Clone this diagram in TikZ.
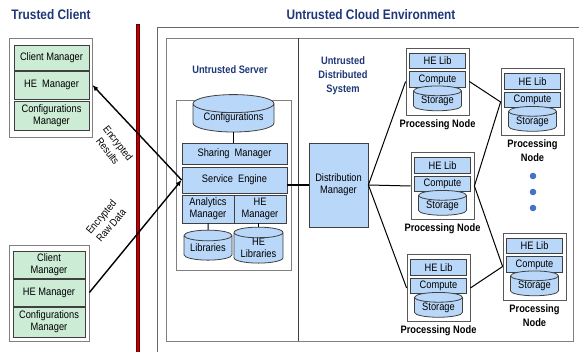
\documentclass[tikz,border=0pt]{standalone}
\usepackage{fontspec}
\setmainfont{Liberation Sans}[FakeStretch=0.86]
\usetikzlibrary{shapes.geometric,arrows.meta}

\definecolor{titleblue}{RGB}{31,56,120}
\definecolor{boxgreen}{RGB}{204,236,214}
\definecolor{boxblue}{RGB}{185,215,248}
\definecolor{dotblue}{RGB}{68,114,196}
\definecolor{wallred}{RGB}{192,0,0}

\begin{document}
\begin{tikzpicture}[x=1pt,y=-1pt,
  every node/.style={font=\fontsize{10.8}{12}\selectfont, align=center, inner sep=0pt},
  title/.style={font=\fontsize{13.8}{16}\selectfont\bfseries, text=titleblue},
  subtitle/.style={font=\fontsize{10.8}{14}\selectfont\bfseries, text=titleblue},
  frame/.style={draw=black!50, fill=white, line width=0.8pt},
  gbox/.style={draw=black!75, fill=boxgreen, line width=0.8pt},
  bbox/.style={draw=black!75, fill=boxblue, line width=0.8pt},
  db/.style={cylinder, shape border rotate=90, aspect=0.3, draw=black!75, fill=boxblue, line width=0.8pt},
  pnlabel/.style={font=\fontsize{10.8}{14}\selectfont\bfseries},
  link/.style={line width=1pt},
  arrow/.style={line width=1.4pt, -{Latex[length=6pt,width=5pt]}}]
\useasboundingbox (0,0) rectangle (579,352);
%%%%%%%%%%%%%%%%%%%%%%%%%%%%%%%
% trusted client
%%%%%%%%%%%%%%%%%%%%%%%%%%%%%%%
\node[title] (trusted) at (51,15) {Trusted Client};
\node[frame, minimum width=83, minimum height=99] (client1) at (50.5,87.5) {};
\node[gbox, minimum width=75, minimum height=25] (cm1) at (51.5,57.5) {Client Manager};
\node[gbox, minimum width=75, minimum height=28] (hem1) at (51.5,85) {HE\ \ Manager};
\node[gbox, minimum width=75, minimum height=29] (conf1) at (51.5,115.5) {Configurations\\Manager};
%
\node[frame, minimum width=80, minimum height=96] (client2) at (49,293) {};
\node[gbox, minimum width=72, minimum height=27] (cm2) at (49,264.5) {Client\\Manager};
\node[gbox, minimum width=72, minimum height=27] (hem2) at (49,292.5) {HE Manager};
\node[gbox, minimum width=72, minimum height=30] (conf2) at (49,322) {Configurations\\Manager};
%
\fill[wallred, draw=black!60!red, line width=0.4pt] (136.5,24) rectangle (139.5,352);
%%%%%%%%%%%%%%%%%%%%%%%%%%%%%%%
% untrusted cloud
%%%%%%%%%%%%%%%%%%%%%%%%%%%%%%%
\node[title] (untrusted) at (371,15) {Untrusted Cloud Environment};
\draw[black!60, line width=0.8pt] (579,27) -- (157,27) -- (157,352);
\node[frame, minimum width=407, minimum height=303] (cloud) at (369.5,189.5) {};
\draw[black!75, line width=0.8pt] (298,0 |- cloud.north) -- (298,0 |- cloud.south);
\node[subtitle] (server) at (230,70) {Untrusted Server};
\node[subtitle] (distsys) at (343,76) {Untrusted\\Distributed\\System};
%
\node[frame, minimum width=115, minimum height=170] (group) at (233.5,185) {};
\node[db, minimum width=81, minimum height=24] (config) at (233.5,118) {Configurations};
\node[bbox, minimum width=105, minimum height=21] (share) at (234.5,153.5) {Sharing\ \ Manager};
\node[bbox, minimum width=105, minimum height=26] (engine) at (234.5,180) {Service\ \ Engine};
\node[bbox, minimum width=52, minimum height=28] (analytics) at (208,209) {Analytics\\Manager};
\node[bbox, minimum width=52, minimum height=28] (hem) at (260,209) {HE\\Manager};
\node[db, minimum width=48, minimum height=30] (libs) at (208,248) {Libraries};
\node[db, minimum width=49, minimum height=30] (helibs) at (258.5,248) {HE\\Libraries};
\draw[link] (config.south) -- (config.south |- share.north);
\draw[link] (analytics.south) -- (libs.north);
\draw[link] (hem.south -| helibs.north) -- (helibs.north);
%
\node[bbox, minimum width=59, minimum height=84] (dm) at (338.5,185) {Distribution\\Manager};
\draw[line width=1.2pt] (engine.east |- dm.west) -- (dm.west);
%
\foreach \n/\cx/\cy/\txt in {1/437.5/81.5/{Processing Node}, 2/442.5/186/{Processing Node},
    3/438.5/288/{Processing Node}, 4/532.5/102/{Processing\\Node}, 5/534.5/266.5/{Processing\\Node}}{
  \node[frame, draw=black!65, minimum width=63, minimum height=67] (pn\n) at (\cx,\cy) {};
  \node[bbox, minimum width=56, minimum height=15.5] (lib\n) at (\cx,\cy-20.5) {HE Lib};
  \node[bbox, minimum width=56, minimum height=15.5] (cmp\n) at (\cx,\cy-2) {Compute};
  \node[db, minimum width=48, minimum height=17] (sto\n) at (\cx,\cy+19.5) {Storage};
  \node[pnlabel, below=4pt] (pnl\n) at (pn\n.south) {\txt};
}
\foreach \n in {1,2,3}
  \draw[link] (dm.east) -- (pn\n.west);
\draw[link] (pn1.east) -- (pn4.west);
\draw[link] (pn2.east) -- (pn4.west);
\draw[link] (pn2.east) -- (pn5.west);
\draw[link] (pn3.east) -- (pn5.west);
\foreach \y in {176,192,208}
  \fill[dotblue] (533,\y) circle [radius=3.3];
%%%%%%%%%%%%%%%%%%%%%%%%%%%%%%%
% encrypted traffic
%%%%%%%%%%%%%%%%%%%%%%%%%%%%%%%
\draw[arrow] (engine.west) -- (hem1.east -| client1.east);
\draw[arrow] (hem2.east -| client2.east) -- (engine.west);
\node[rotate=-52, font=\fontsize{10.5}{13}\selectfont] (results) at (113,147) {Encrypted\\Results};
\node[rotate=50, font=\fontsize{10.5}{13}\selectfont] (rawdata) at (106,221) {Encrypted\\Raw Data};
\end{tikzpicture}
\end{document}
